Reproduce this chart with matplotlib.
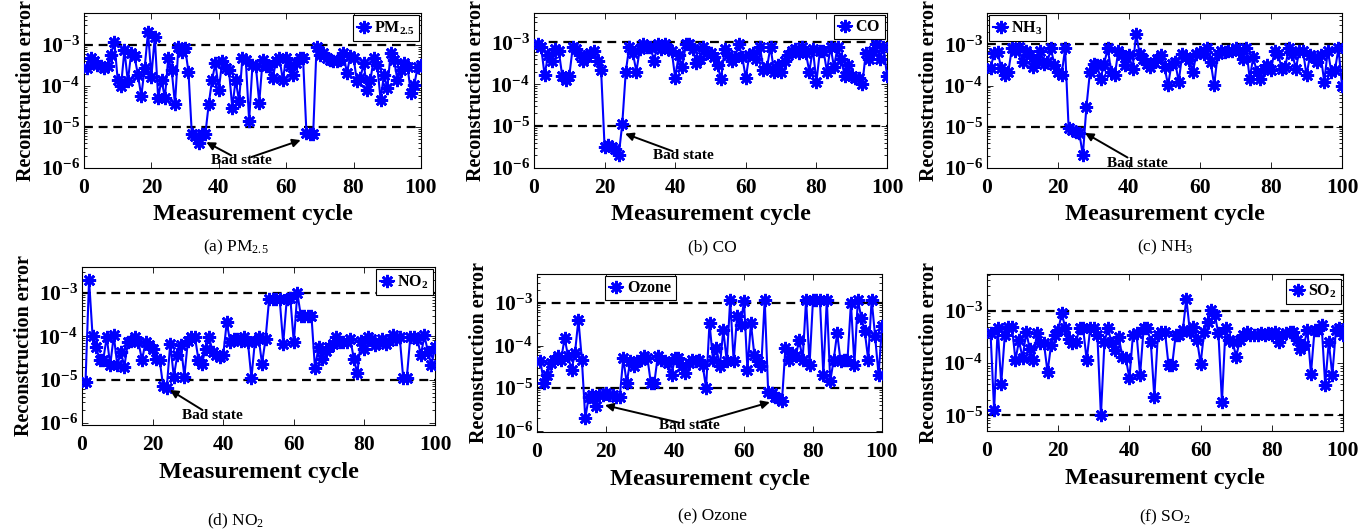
import numpy as np
import matplotlib
matplotlib.use("Agg")
import matplotlib.pyplot as plt
from matplotlib.ticker import FixedLocator, LogLocator, NullFormatter

plt.rcParams['font.family'] = ['Liberation Serif', 'DejaVu Serif']
plt.rcParams['mathtext.fontset'] = 'custom'
plt.rcParams['mathtext.rm'] = 'Liberation Serif'
plt.rcParams['mathtext.it'] = 'Liberation Serif:italic'
plt.rcParams['mathtext.bf'] = 'Liberation Serif:bold'

# ---------------- data (log10 of reconstruction error) ----------------
pm25_log = [-3.56,-3.32,-3.40,-3.48,-3.52,-3.56,-3.52,-3.24,-2.92,-3.85,
            -3.99,-3.12,-3.89,-3.20,-3.28,-3.73,-4.25,-3.56,-2.68,-3.77,
            -2.80,-4.29,-3.85,-4.29,-3.32,-3.60,-4.45,-3.04,-3.16,-3.08,
            -3.65,-5.18,-5.22,-5.38,-5.18,-5.18,-4.45,-3.85,-3.44,-4.09,
            -3.40,-3.56,-3.60,-4.53,-3.85,-4.37,-3.32,-3.36,-4.85,-3.48,
            -3.52,-4.41,-3.36,-3.52,-3.52,-3.81,-3.40,-3.32,-3.85,-3.32,
            -3.52,-3.73,-3.44,-3.32,-3.32,-5.14,-5.18,-5.18,-3.04,-3.24,
            -3.20,-3.32,-3.36,-3.40,-3.40,-3.36,-3.20,-3.69,-3.28,-3.32,
            -3.89,-3.81,-3.44,-4.09,-3.85,-3.32,-3.48,-4.33,-3.73,-4.05,
            -3.20,-3.36,-3.85,-3.61,-3.45,-3.53,-4.18,-3.98,-3.53,-3.49]

co_log = [-3.05,-3.10,-3.78,-3.30,-3.45,-3.15,-3.20,-3.80,-3.90,-3.80,
          -3.10,-3.15,-3.30,-3.45,-3.35,-3.25,-3.20,-3.45,-3.65,-5.50,
          -5.45,-5.50,-5.55,-5.70,-4.95,-3.70,-3.10,-3.25,-3.70,-3.15,
          -3.05,-3.10,-3.10,-3.45,-3.05,-3.15,-3.05,-3.15,-3.20,-3.85,
          -3.30,-3.60,-3.05,-3.05,-3.15,-3.50,-3.40,-3.10,-3.25,-3.25,
          -3.35,-3.55,-3.88,-3.15,-3.30,-3.45,-3.35,-3.05,-3.35,-3.85,
          -3.30,-3.25,-3.40,-3.10,-3.65,-3.60,-3.10,-3.70,-3.55,-3.70,
          -3.45,-3.30,-3.20,-3.15,-3.25,-3.10,-3.25,-3.70,-3.15,-3.95,
          -3.20,-3.20,-3.70,-3.10,-3.60,-3.10,-3.40,-3.80,-3.55,-3.80,
          -3.85,-3.85,-4.00,-3.25,-3.40,-3.20,-3.05,-3.40,-3.10,-3.80]

nh3_log = [-3.58,-3.22,-3.18,-3.58,-3.75,-3.67,-3.10,-3.15,-3.07,-3.43,
           -3.15,-3.27,-3.55,-3.39,-3.15,-3.47,-3.43,-3.10,-3.50,-3.67,
           -3.75,-3.10,-5.04,-5.08,-5.12,-5.15,-5.69,-4.52,-3.67,-3.47,
           -3.51,-3.83,-3.47,-3.10,-3.67,-3.75,-3.15,-3.27,-3.51,-3.27,
           -3.59,-2.75,-3.23,-3.35,-3.47,-3.55,-3.43,-3.35,-3.27,-3.55,
           -3.99,-3.47,-3.43,-3.91,-3.23,-3.31,-3.39,-3.67,-3.23,-3.19,
           -3.23,-3.10,-3.43,-3.99,-3.23,-3.15,-3.19,-3.15,-3.15,-3.10,
           -3.15,-3.35,-3.10,-3.83,-3.31,-3.67,-3.83,-3.59,-3.51,-3.63,
           -3.15,-3.23,-3.59,-3.55,-3.10,-3.23,-3.59,-3.15,-3.15,-3.75,
           -3.27,-3.31,-3.43,-3.27,-3.91,-3.15,-3.67,-3.63,-3.10,-4.00]

no2_log = [-5.05,-2.70,-4.00,-4.25,-4.55,-4.55,-4.02,-4.67,-3.98,-4.67,
           -4.36,-4.70,-4.14,-4.10,-4.02,-4.14,-4.55,-4.14,-4.21,-4.29,
           -4.52,-4.55,-5.16,-5.20,-4.17,-4.93,-4.44,-4.21,-4.93,-4.10,
           -4.02,-4.02,-4.55,-4.63,-4.29,-4.02,-4.36,-4.44,-4.48,-4.44,
           -3.68,-4.14,-4.06,-4.06,-4.10,-4.02,-4.14,-4.97,-4.10,-4.02,
           -4.63,-4.06,-3.15,-3.15,-3.15,-3.15,-4.17,-3.15,-3.11,-4.14,
           -3.00,-3.53,-3.53,-3.53,-3.53,-4.74,-4.25,-4.52,-4.33,-4.25,
           -4.17,-4.02,-4.14,-4.14,-4.14,-4.06,-4.52,-4.86,-4.10,-4.29,
           -4.02,-4.06,-4.21,-4.14,-4.06,-4.17,-4.10,-3.98,-4.06,-4.02,
           -4.97,-4.97,-4.02,-4.02,-4.06,-4.44,-3.98,-4.36,-4.67,-4.25]

ozone_log = [-4.37,-4.88,-4.69,-4.41,-4.33,-4.25,-4.33,-3.82,-4.25,-4.57,
             -4.18,-3.39,-4.33,-5.71,-5.20,-5.16,-5.43,-5.16,-5.16,-5.12,
             -5.16,-5.16,-5.20,-5.20,-4.29,-4.88,-4.37,-4.49,-4.37,-4.33,
             -4.25,-4.29,-4.88,-4.88,-4.25,-4.33,-4.37,-4.41,-4.69,-4.29,
             -4.29,-4.49,-4.65,-4.41,-4.33,-4.37,-4.33,-4.45,-5.00,-3.47,
             -4.33,-4.06,-4.49,-3.63,-4.37,-2.92,-4.37,-3.31,-3.51,-2.96,
             -4.57,-3.47,-4.22,-4.37,-4.49,-2.92,-5.08,-5.12,-5.20,-5.24,
             -5.31,-4.06,-4.33,-4.18,-4.25,-3.86,-4.33,-2.92,-4.45,-2.92,
             -2.92,-2.92,-4.69,-2.92,-4.84,-4.33,-3.71,-4.37,-4.33,-4.33,
             -3.00,-4.45,-2.92,-3.35,-3.67,-4.33,-2.92,-3.78,-4.69,-3.55]

so2_log = [-3.43,-4.90,-3.33,-4.39,-3.46,-3.30,-3.30,-3.94,-3.56,-3.91,
           -3.40,-3.72,-3.94,-3.43,-3.62,-3.62,-4.17,-3.65,-3.46,-3.37,
           -3.04,-3.33,-3.53,-3.62,-3.59,-3.33,-3.33,-3.94,-3.33,-3.33,
           -3.46,-5.00,-3.59,-3.33,-3.62,-3.75,-3.49,-3.88,-3.91,-4.29,
           -3.46,-3.43,-4.23,-3.33,-3.33,-3.59,-4.65,-3.46,-3.40,-3.40,
           -4.04,-4.04,-3.46,-3.46,-3.37,-2.76,-3.40,-3.30,-3.56,-4.01,
           -3.40,-3.21,-2.98,-3.08,-3.43,-4.74,-3.33,-3.56,-3.59,-3.88,
           -3.56,-3.46,-3.40,-3.46,-3.46,-3.46,-3.43,-3.46,-3.43,-3.46,
           -3.40,-3.59,-3.46,-3.43,-3.40,-3.40,-3.56,-3.72,-3.65,-3.37,
           -4.20,-3.37,-3.37,-3.27,-4.42,-3.59,-4.23,-3.37,-3.33,-3.46]

cycles = np.arange(1, 101)
thresholds = [1e-3, 1e-5]
legend_labels = [r'$\mathbf{PM_{2.5}}$', r'$\mathbf{CO}$', r'$\mathbf{NH_3}$',
                 r'$\mathbf{NO_2}$', r'$\mathbf{Ozone}$', r'$\mathbf{SO_2}$']
captions = [r'(a) PM$_{2.5}$', '(b) CO', r'(c) NH$_3$',
            r'(d) NO$_2$', '(e) Ozone', r'(f) SO$_2$']
series = [pm25_log, co_log, nh3_log, no2_log, ozone_log, so2_log]

# ---------------- layout ----------------
W, H = 1372, 529
fig = plt.figure(figsize=(W / 100, H / 100), dpi=100)

# (left, right, top, bottom) in pixels
boxes = [(84, 421, 13, 168), (534, 887, 13, 168), (987, 1342, 13, 168),
         (82, 435, 267, 425), (537, 882, 274, 432), (987, 1343, 274, 431)]
ylims = [(10**-6.0, 10**-2.22), (10**-6.0, 10**-2.3), (10**-6.0, 10**-2.24),
         (10**-6.05, 10**-2.4), (10**-6.03, 10**-2.32), (10**-5.3, 10**-2.29)]
yticks = [[1e-6, 1e-5, 1e-4, 1e-3]] * 5 + [[1e-5, 1e-4, 1e-3]]
legend_locs = [('upper right', None), ('upper right', None), ('upper left', None),
               ('upper right', None), ('upper left', (0.19, 1.0)), ('upper right', (1.0, 0.985))]
caption_pos = [(236, 247), (712, 247), (1165, 247), (236, 521), (712, 516), (1165, 517)]

# annotations: (text_xy, [arrow tips]) in data coordinates (x, log10 y)
annots = {
    0: ((46.6, -5.82), [(36.3, -5.37), (64.3, -5.32)]),
    1: ((42.2, -5.69), [(25.8, -5.18)]),
    2: ((42.3, -5.88), [(27.6, -5.15)]),
    3: ((36.8, -5.84), [(24.9, -5.24)]),
    4: ((44.3, -5.87), [(19.7, -5.40), (67.5, -5.33)]),
}

def fmt(v):
    e = int(round(np.log10(v)))
    return r'$\mathbf{10^{%d}}$' % e

blue = (0, 0, 1)
for i, (vals, box) in enumerate(zip(series, boxes)):
    L, R, T, B = box
    ax = fig.add_axes([L / W, 1 - B / H, (R - L) / W, (B - T) / H])
    y = 10 ** np.array(vals)
    for t in thresholds:
        ax.axhline(t, color='k', lw=1.6, ls=(0, (4, 2.6)), zorder=1)
    ax.plot(cycles, y, color=blue, lw=1.5, marker=(8, 2, 0), ms=9.5, mew=1.9,
            label=legend_labels[i], zorder=3)
    ax.set_yscale('log')
    ax.set_xlim(0, 100)
    ax.set_ylim(*ylims[i])
    ax.set_xticks([0, 20, 40, 60, 80, 100])
    ax.set_xticklabels(['0', '20', '40', '60', '80', '100'], fontweight='bold', fontsize=15.5)
    ax.yaxis.set_major_locator(FixedLocator(yticks[i]))
    ax.set_yticklabels([fmt(v) for v in yticks[i]], fontsize=15.5)
    ax.yaxis.set_minor_locator(LogLocator(base=10, subs=np.arange(2, 10), numticks=20))
    ax.yaxis.set_minor_formatter(NullFormatter())
    ax.tick_params(which='both', direction='in', top=True, right=True, width=0.6)
    ax.tick_params(which='major', length=4)
    ax.tick_params(axis='x', which='major', pad=7)
    ax.tick_params(axis='y', which='major', pad=3)
    ax.tick_params(which='minor', length=2)
    for s in ax.spines.values():
        s.set_linewidth(0.8)
    ax.set_xlabel('Measurement cycle', fontsize=17.5, fontweight='bold',
                  labelpad=4.5 if i < 3 else 5.5)
    ax.set_ylabel('Reconstruction error', fontsize=14.5, fontweight='bold', labelpad=3)

    loc, anchor = legend_locs[i]
    kw = dict(loc=loc, fontsize=11.5, handlelength=0.9, handletextpad=0.2,
              borderpad=0.25, borderaxespad=0.15, fancybox=False, framealpha=1,
              edgecolor='k', markerscale=1.0)
    if anchor is not None:
        kw['bbox_to_anchor'] = anchor
    leg = ax.legend(**kw)
    leg.get_frame().set_linewidth(0.8)

    if i in annots:
        (tx, ty), tips = annots[i]
        for (ax_, ay_) in tips:
            ax.annotate('', xy=(ax_, 10 ** ay_), xytext=(tx, 10 ** ty),
                        arrowprops=dict(arrowstyle='-|>', color='k', lw=1.4,
                                        mutation_scale=12, shrinkA=8, shrinkB=0))
        ax.text(tx, 10 ** ty, 'Bad state', ha='center', va='center',
                fontsize=11, fontweight='bold', zorder=5)

    cx, cy = caption_pos[i]
    fig.text(cx / W, 1 - cy / H, captions[i], ha='center', va='center', fontsize=12.5)

fig.savefig('out.png', dpi=100)
